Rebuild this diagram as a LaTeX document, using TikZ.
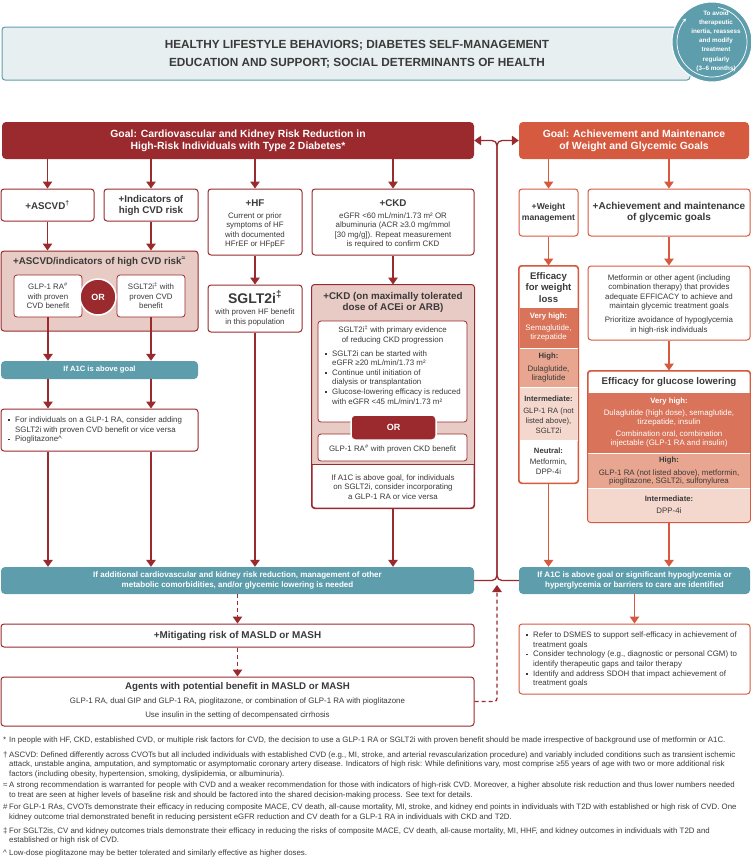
\documentclass[tikz,border=0pt]{standalone}
\usepackage{fontspec}
\setmainfont{Liberation Sans}
\usetikzlibrary{arrows.meta}
\definecolor{dred}{HTML}{9A2A2E}
\definecolor{pinkf}{HTML}{E8CBC5}
\definecolor{tealc}{HTML}{5E9EAC}
\definecolor{bannerf}{HTML}{E7EFF1}
\definecolor{orng}{HTML}{D65A3F}
\definecolor{vhc}{HTML}{D97359}
\definecolor{hic}{HTML}{E8A690}
\definecolor{imc}{HTML}{F4D7CD}
\definecolor{txt}{HTML}{3A3A3A}
\newcommand\bodyf{\fontsize{7.9}{9.6}\selectfont}
\newcommand\bodyg{\fontsize{7.9}{8.8}\selectfont}
\newcommand\ttlf{\fontsize{9.8}{11}\selectfont\bfseries}
\newcommand\bl{\makebox[7pt][l]{\raisebox{1.5pt}{\rule{1.9pt}{1.9pt}}}}
\newcommand\hin{\hspace*{7pt}}
\newcommand\fnm[1]{\makebox[6pt][l]{#1}}
\begin{document}
\begin{tikzpicture}[x=1pt,y=-1pt,
  every node/.style={text=txt},
  rbox/.style={draw=dred, line width=1pt, rounded corners=3pt, fill=white, inner sep=0pt},
  obox/.style={draw=orng, line width=1pt, rounded corners=3pt, fill=white, inner sep=0pt},
  tbar/.style={fill=tealc, rounded corners=4pt, inner sep=0pt, text=white, font=\fontsize{8}{10}\selectfont\bfseries, align=center},
  tx/.style={inner sep=0pt, align=center, font=\bodyf},
  ttl/.style={inner sep=0pt, align=center, font=\ttlf},
  lbl/.style={inner sep=0pt, align=center, font=\fontsize{7.7}{9}\selectfont\bfseries},
  tip/.tip={Triangle[width=9.5pt,length=7pt]},
  rline/.style={draw=dred, line width=1.3pt},
  rarr/.style={rline, -tip},
  oarr/.style={draw=orng, line width=1.3pt, -tip},
  darr/.style={rarr, dash pattern=on 4pt off 3pt},
  fn/.style={inner sep=0pt, align=left, anchor=west, font=\fontsize{7.85}{9.5}\selectfont}
]
\useasboundingbox (0,0) rectangle (751,857);

% banner and cycle
\node[draw=tealc, line width=1pt, fill=bannerf, rounded corners=3pt, minimum width=688pt, minimum height=53pt, inner sep=0pt] (banner) at (346,53.5) {};
\node[inner sep=0pt, align=center, font=\fontsize{11.8}{18}\selectfont\bfseries] (bannertxt) at (357,54.5) {HEALTHY LIFESTYLE BEHAVIORS; DIABETES SELF-MANAGEMENT\\EDUCATION AND SUPPORT; SOCIAL DETERMINANTS OF HEALTH};
\node[circle, fill=tealc, draw=white, line width=1pt, minimum size=80pt, inner sep=0pt] (cyc) at (712,42) {};
\draw[white, line width=0.7pt, -{Stealth[length=3.5pt,width=3.5pt]}] ([shift={(-80:35)}]cyc.center) arc[start angle=-80, end angle=222, radius=35];
\node[inner sep=0pt, align=center, text=white, font=\fontsize{6.3}{9.2}\selectfont\bfseries] (cyctxt) at (716,41) {To avoid\\therapeutic\\inertia, reassess\\and modify\\treatment\\regularly\\(3–6 months)};

% goals
\node[fill=dred, rounded corners=4pt, minimum width=472pt, minimum height=37pt, inner sep=0pt, text=white, align=center, font=\fontsize{10.4}{12.3}\selectfont\bfseries] (goalL) at (238,140.5) {Goal: Cardiovascular and Kidney Risk Reduction in\\High-Risk Individuals with Type 2 Diabetes*};
\node[fill=orng, rounded corners=4pt, minimum width=230pt, minimum height=37pt, inner sep=0pt, text=white, align=center, font=\fontsize{10.4}{12.3}\selectfont\bfseries] (goalR) at (634,140.5) {Goal: Achievement and Maintenance\\of Weight and Glycemic Goals};

% row 1 left
\node[rbox, minimum width=93pt, minimum height=32pt, font=\ttlf, align=center] (ascvd) at (47.5,205) {+ASCVD\textsuperscript{†}};
\node[rbox, minimum width=94pt, minimum height=32pt, font=\ttlf, align=center] (ind) at (151,205) {+Indicators of\\high CVD risk};
\node[rbox, minimum width=94pt, minimum height=66pt] (hf) at (255,222) {};
\node[ttl] (hft) at (255,203) {+HF};
\node[tx] (hfb) at (255,230.4) {Current or prior\\symptoms of HF\\with documented\\HFrEF or HFpEF};
\node[rbox, minimum width=162pt, minimum height=66pt] (ckd) at (393,222) {};
\node[ttl] (ckdt) at (393,203) {+CKD};
\node[tx] (ckdb) at (393,230.4) {eGFR <60 mL/min/1.73 m² OR\\albuminuria (ACR ≥3.0 mg/mmol\\{[}30 mg/g{]}). Repeat measurement\\is required to confirm CKD};
\draw[rarr] (goalL.south -| ascvd.north) -- (ascvd.north);
\draw[rarr] (goalL.south -| ind.north) -- (ind.north);
\draw[rarr] (goalL.south -| hf.north) -- (hf.north);
\draw[rarr] (goalL.south -| ckd.north) -- (ckd.north);

% ASCVD big box
\node[rbox, fill=pinkf, minimum width=197pt, minimum height=80pt] (big) at (99.5,291) {};
\node[ttl] (bigt) at (99.5,262) {+ASCVD/indicators of high CVD risk\textsuperscript{≈}};
\node[rbox, line width=0.8pt, minimum width=68pt, minimum height=42pt, font=\bodyf, align=center] (glp) at (48,296) {GLP-1 RA\textsuperscript{\#}\\with proven\\CVD benefit};
\node[rbox, line width=0.8pt, minimum width=68pt, minimum height=42pt, font=\bodyf, align=center] (sglt) at (151,296) {SGLT2i\textsuperscript{‡} with\\proven CVD\\benefit};
\node[circle, fill=dred, draw=white, line width=1.5pt, minimum size=36pt, inner sep=0pt, text=white, font=\fontsize{9}{10}\selectfont\bfseries] (or1) at (98,297) {OR};
\draw[rarr] (ascvd.south) -- (ascvd.south |- big.north);
\draw[rarr] (ind.south) -- (ind.south |- big.north);

\node[tbar, font=\fontsize{7.6}{10}\selectfont\bfseries, minimum width=197pt, minimum height=18pt] (a1c) at (99.5,370) {If A1C is above goal};
\draw[rarr] (glp.south) -- (glp.south |- a1c.north);
\draw[rarr] (sglt.south) -- (sglt.south |- a1c.north);
\node[rbox, minimum width=197pt, minimum height=42pt] (bul) at (99.5,430) {};
\node[tx, align=left, anchor=west] (bult) at (8,430.3) {\bl For individuals on a GLP-1 RA, consider adding\\\hin SGLT2i with proven CVD benefit or vice versa\\\bl Pioglitazone\textasciicircum};
\draw[rarr] (a1c.south -| glp.south) -- (glp.south |- bul.north);
\draw[rarr] (a1c.south -| sglt.south) -- (sglt.south |- bul.north);

% HF
\node[rbox, minimum width=94pt, minimum height=47pt] (shf) at (255,308.5) {};
\node[inner sep=0pt, font=\fontsize{14}{16}\selectfont\bfseries] (shft) at (255,297) {SGLT2i\textsuperscript{‡}};
\node[tx] (shfb) at (255,317.5) {with proven HF benefit\\in this population};
\draw[rarr] (hf.south) -- (shf.north);

% CKD max
\node[rbox, minimum width=162pt, minimum height=223pt] (ckm) at (393,396.5) {};
\begin{scope}
\clip[rounded corners=3pt] (ckm.north west) rectangle (ckm.south east);
\fill[pinkf] (ckm.north west) rectangle (474,464);
\end{scope}
\draw[dred, line width=1pt] (312,464) -- (474,464);
\draw[dred, line width=1pt, rounded corners=3pt] (ckm.north west) rectangle (ckm.south east);
\node[ttl] (ckmt) at (393,302.5) {+CKD (on maximally tolerated\\dose of ACEi or ARB)};
\node[rbox, line width=0.8pt, minimum width=149pt, minimum height=101pt] (ck1) at (392.5,371.5) {};
\node[tx] (ck1t) at (392.5,334.7) {SGLT2i\textsuperscript{‡} with primary evidence\\of reducing CKD progression};
\node[tx, align=left, anchor=west] (ck1b) at (325,377.2) {\bl SGLT2i can be started with\\\hin eGFR ≥20 mL/min/1.73 m²\\\bl Continue until initiation of\\\hin dialysis or transplantation\\\bl Glucose-lowering efficacy is reduced\\\hin with eGFR <45 mL/min/1.73 m²};
\node[rbox, line width=0.8pt, minimum width=149pt, minimum height=27pt] (ck2) at (392.5,447.5) {};
\node[tx] (ck2t) at (392.5,449) {GLP-1 RA\textsuperscript{\#} with proven CKD benefit};
\node[fill=dred, draw=white, line width=1.5pt, rounded corners=4pt, minimum width=85pt, minimum height=25pt, inner sep=0pt, text=white, font=\fontsize{9}{10}\selectfont\bfseries] (or2) at (393.5,427.5) {OR};
\node[tx] (ckmb) at (393,487) {If A1C is above goal, for individuals\\on SGLT2i, consider incorporating\\a GLP-1 RA or vice versa};
\draw[rarr] (ckd.south) -- (ckm.north);

% bottom left
\node[tbar, minimum width=473pt, minimum height=27pt] (tealL) at (237.5,580.5) {If additional cardiovascular and kidney risk reduction, management of other\\metabolic comorbidities, and/or glycemic lowering is needed};
\draw[rarr] (bul.south -| glp.south) -- (glp.south |- tealL.north);
\draw[rarr] (bul.south -| sglt.south) -- (sglt.south |- tealL.north);
\draw[rarr] (shf.south) -- (shf.south |- tealL.north);
\draw[rarr] (ckm.south) -- (ckm.south |- tealL.north);
\node[rbox, minimum width=473pt, minimum height=23pt, font=\fontsize{9.9}{11}\selectfont\bfseries] (masld) at (237.5,635.5) {+Mitigating risk of MASLD or MASH};
\node[rbox, minimum width=473pt, minimum height=49pt] (agents) at (237.5,701.5) {};
\node[inner sep=0pt, font=\fontsize{9.7}{11}\selectfont\bfseries] (agt) at (237.5,687) {Agents with potential benefit in MASLD or MASH};
\node[tx] (agb1) at (237.5,701) {GLP-1 RA, dual GIP and GLP-1 RA, pioglitazone, or combination of GLP-1 RA with pioglitazone};
\node[tx] (agb2) at (237.5,715.5) {Use insulin in the setting of decompensated cirrhosis};
\draw[darr] (tealL.south) -- (masld.north);
\draw[darr] (masld.south) -- (agents.north);

% right side
\node[obox, minimum width=59pt, minimum height=47pt, font=\fontsize{8.6}{11}\selectfont\bfseries, align=center] (wm) at (548.5,212.5) {+Weight\\management};
\node[obox, minimum width=162pt, minimum height=47pt, font=\fontsize{10}{11}\selectfont\bfseries, align=center] (ach) at (669,212.5) {+Achievement and maintenance\\of glycemic goals};
\draw[oarr] (goalR.south -| wm.north) -- (wm.north);
\draw[oarr] (goalR.south -| ach.north) -- (ach.north);

\node[obox, minimum width=59pt, minimum height=217pt] (wcol) at (548.5,374.5) {};
\fill[vhc] (519.5,308) rectangle (577.5,348);
\fill[hic] (519.5,348) rectangle (577.5,387);
\fill[imc] (519.5,387) rectangle (577.5,440);
\draw[white, line width=0.8pt] (519.5,348) -- (577.5,348) (519.5,387) -- (577.5,387) (519.5,440) -- (577.5,440);
\draw[orng, line width=1pt, rounded corners=3pt] (wcol.north west) rectangle (wcol.south east);
\draw[oarr] (wm.south) -- (wcol.north);
\node[ttl, font=\fontsize{9.6}{11.3}\selectfont\bfseries] (wct) at (548.5,287.5) {Efficacy\\for weight\\loss};
\node[lbl, text=white] (wvh) at (548.5,316.7) {Very high:};
\node[tx, font=\bodyg, text=white] (wvhb) at (548.5,333.2) {Semaglutide,\\tirzepatide};
\node[lbl] (whi) at (548.5,356.7) {High:};
\node[tx, font=\bodyg] (whib) at (548.5,373.8) {Dulaglutide,\\liraglutide};
\node[lbl] (wim) at (548.5,398.3) {Intermediate:};
\node[tx, font=\fontsize{7.7}{10}\selectfont] (wimb) at (548.5,420.7) {GLP-1 RA (not\\listed above),\\SGLT2i};
\node[lbl] (wne) at (548.5,451) {Neutral:};
\node[tx, font=\fontsize{7.9}{10}\selectfont] (wneb) at (548.5,466.7) {Metformin,\\DPP-4i};

\node[obox, minimum width=162pt, minimum height=74pt] (met) at (669,303) {};
\node[tx] (metb1) at (669,292.5) {Metformin or other agent (including\\combination therapy) that provides\\adequate EFFICACY to achieve and\\maintain glycemic treatment goals};
\node[tx] (metb2) at (669,325.5) {Prioritize avoidance of hypoglycemia\\in high-risk individuals};
\draw[oarr] (ach.south) -- (met.north);

\node[obox, minimum width=162pt, minimum height=151pt] (glu) at (669,446.5) {};
\begin{scope}
\clip[rounded corners=3pt] (glu.north west) rectangle (glu.south east);
\fill[vhc] (588,393) rectangle (750,453);
\fill[hic] (588,453) rectangle (750,488);
\fill[imc] (588,488) rectangle (750,522);
\draw[white, line width=0.8pt] (588,453) -- (750,453) (588,488) -- (750,488);
\end{scope}
\draw[orng, line width=1pt, rounded corners=3pt] (glu.north west) rectangle (glu.south east);
\draw[oarr] (met.south) -- (glu.north);
\node[ttl, font=\fontsize{9.7}{11}\selectfont\bfseries] (glut) at (669,382) {Efficacy for glucose lowering};
\node[lbl, text=white] (gvh) at (669,401.7) {Very high:};
\node[tx, font=\bodyg, text=white] (gvhb1) at (669,418.2) {Dulaglutide (high dose), semaglutide,\\tirzepatide, insulin};
\node[tx, font=\bodyg, text=white] (gvhb2) at (669,438.7) {Combination oral, combination\\injectable (GLP-1 RA and insulin)};
\node[lbl] (ghi) at (669,461) {High:};
\node[tx, font=\bodyg] (ghib) at (669,477.4) {GLP-1 RA (not listed above), metformin,\\pioglitazone, SGLT2i, sulfonylurea};
\node[lbl] (gim) at (669,499) {Intermediate:};
\node[tx] (gimb) at (669,510.7) {DPP-4i};

\node[tbar, minimum width=231pt, minimum height=27pt] (tealR) at (634.5,580.5) {If A1C is above goal or significant hypoglycemia or\\hyperglycemia or barriers to care are identified};
\draw[oarr] (wcol.south) -- (wcol.south |- tealR.north);
\draw[oarr] (glu.south) -- (glu.south |- tealR.north);
\node[obox, minimum width=231pt, minimum height=70pt] (rbul) at (634.5,659) {};
\draw[oarr] (tealR.south) -- (rbul.north);
\node[tx, align=left, anchor=west] (rbult) at (526,659.7) {\bl Refer to DSMES to support self-efficacy in achievement of\\\hin treatment goals\\\bl Consider technology (e.g., diagnostic or personal CGM) to\\\hin identify therapeutic gaps and tailor therapy\\\bl Identify and address SDOH that impact achievement of\\\hin treatment goals};

% junction connectors
\coordinate (jmid) at (497,360);
\coordinate (jarr) at (497,585);
\draw[rline, rounded corners=5pt, tip-] (goalL.east) -| (jmid) |- (tealL.east);
\draw[rline, rounded corners=5pt, tip-] (goalR.west) -| (jmid) |- (tealR.west);
\draw[darr, rounded corners=3pt] (agents.east) -| (jarr);

% footnotes
\node[fn] (fn1) at (3,740) {\fnm{*}In people with HF, CKD, established CVD, or multiple risk factors for CVD, the decision to use a GLP-1 RA or SGLT2i with proven benefit should be made irrespective of background use of metformin or A1C.};
\node[fn] (fn2) at (3,764.5) {\fnm{†}ASCVD: Defined differently across CVOTs but all included individuals with established CVD (e.g., MI, stroke, and arterial revascularization procedure) and variably included conditions such as transient ischemic\\\hspace*{6pt}attack, unstable angina, amputation, and symptomatic or asymptomatic coronary artery disease. Indicators of high risk: While definitions vary, most comprise ≥55 years of age with two or more additional risk\\\hspace*{6pt}factors (including obesity, hypertension, smoking, dyslipidemia, or albuminuria).};
\node[fn] (fn3) at (3,790.5) {\fnm{≈}A strong recommendation is warranted for people with CVD and a weaker recommendation for those with indicators of high-risk CVD. Moreover, a higher absolute risk reduction and thus lower numbers needed\\\hspace*{6pt}to treat are seen at higher levels of baseline risk and should be factored into the shared decision-making process. See text for details.};
\node[fn] (fn4) at (3,812.5) {\fnm{\#}For GLP-1 RAs, CVOTs demonstrate their efficacy in reducing composite MACE, CV death, all-cause mortality, MI, stroke, and kidney end points in individuals with T2D with established or high risk of CVD. One\\\hspace*{6pt}kidney outcome trial demonstrated benefit in reducing persistent eGFR reduction and CV death for a GLP-1 RA in individuals with CKD and T2D.};
\node[fn] (fn5) at (3,835.8) {\fnm{‡}For SGLT2is, CV and kidney outcomes trials demonstrate their efficacy in reducing the risks of composite MACE, CV death, all-cause mortality, MI, HHF, and kidney outcomes in individuals with T2D and\\\hspace*{6pt}established or high risk of CVD.};
\node[fn] (fn6) at (3,853) {\fnm{\textasciicircum}Low-dose pioglitazone may be better tolerated and similarly effective as higher doses.};
\end{tikzpicture}
\end{document}
